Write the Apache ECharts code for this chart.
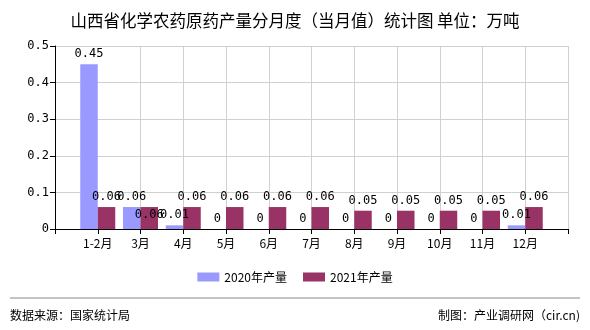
<!DOCTYPE html>
<html><head><meta charset="utf-8">
<script src="https://cdn.jsdelivr.net/npm/echarts@6/dist/echarts.min.js"></script>
<style>html,body{margin:0;padding:0;background:#fff}#c{width:590px;height:330px}</style>
</head><body><div id="c"></div>
<script>
const categories = ['1-2月','3月','4月','5月','6月','7月','8月','9月','10月','11月','12月'];
const values2020 = [0.45, 0.06, 0.01, 0, 0, 0, 0, 0, 0, 0, 0.01];
const values2021 = [0.06, 0.06, 0.06, 0.06, 0.06, 0.06, 0.05, 0.05, 0.05, 0.05, 0.06];
const seriesNames = ['2020年产量', '2021年产量'];
const yTicks = [0, 0.1, 0.2, 0.3, 0.4, 0.5];

const numFont = '"DejaVu Sans Mono", monospace';
const cjkFont = '"Noto Sans CJK SC", sans-serif';
// padded category axis: empty slot before and after
const axisCats = [''].concat(categories, ['']);
const pad = v => [null].concat(v, [null]);

const d2021 = pad(values2021).map((v, i) => {
  if (i === 2) return {value: v, label: {position: 'insideTop', distance: 2}};
  return v;
});

const chart = echarts.init(document.getElementById('c'), null, {renderer: 'canvas'});
chart.setOption({
  animation: false,
  title: {
    text: '山西省化学农药原药产量分月度（当月值）统计图 单位：万吨',
    left: 'center', top: 7,
    textStyle: {fontFamily: cjkFont, fontSize: 16.5, fontWeight: 'normal', color: '#000'}
  },
  legend: {
    data: seriesNames, bottom: 42, left: 'center',
    itemWidth: 22, itemHeight: 9, itemGap: 16,
    textStyle: {fontFamily: cjkFont, fontSize: 12, color: '#000'},
    icon: 'rect'
  },
  grid: {left: 55, right: 22, top: 46, bottom: 101, containLabel: false},
  xAxis: {
    type: 'category', data: axisCats, boundaryGap: false,
    axisLine: {lineStyle: {color: '#000', width: 1}},
    axisTick: {show: true, length: 5, lineStyle: {color: '#000'}, interval: 0},
    axisLabel: {fontFamily: cjkFont, fontSize: 12, color: '#000', interval: 0, margin: 8},
    splitLine: {show: true, interval: (i) => i >= 2, lineStyle: {color: '#d0d0d0', width: 1}}
  },
  yAxis: {
    type: 'value', min: yTicks[0], max: yTicks[yTicks.length-1], interval: 0.1,
    axisLine: {show: true, lineStyle: {color: '#000'}},
    axisTick: {show: true, length: 5, lineStyle: {color: '#000'}},
    axisLabel: {fontFamily: numFont, fontSize: 12, color: '#000', margin: 6,
      formatter: v => String(Math.round(v*10)/10)},
    splitLine: {show: true, lineStyle: {color: '#d0d0d0', width: 1}}
  },
  series: [
    {name: seriesNames[0], type: 'bar', data: pad(values2020), barWidth: 17.5, barGap: '0%',
     itemStyle: {color: '#9999ff'},
     label: {show: true, position: 'top', distance: 4, fontFamily: numFont, fontSize: 12, color: '#000'}},
    {name: seriesNames[1], type: 'bar', data: d2021, barWidth: 17.5, barGap: '0%',
     itemStyle: {color: '#993366'},
     label: {show: true, position: 'top', distance: 4, fontFamily: numFont, fontSize: 12, color: '#000'}}
  ],
  graphic: [
    {type: 'line', shape: {x1: 10, y1: 298, x2: 580, y2: 298}, style: {stroke: '#888', lineWidth: 1}},
    {type: 'text', left: 10, top: 309, style: {text: '数据来源：国家统计局', font: '12px "Noto Sans CJK SC", sans-serif', fill: '#000'}},
    {type: 'text', right: 10, top: 309, style: {text: '制图：产业调研网（cir.cn)', font: '12px "Noto Sans CJK SC", sans-serif', fill: '#000'}}
  ]
});
</script></body></html>
